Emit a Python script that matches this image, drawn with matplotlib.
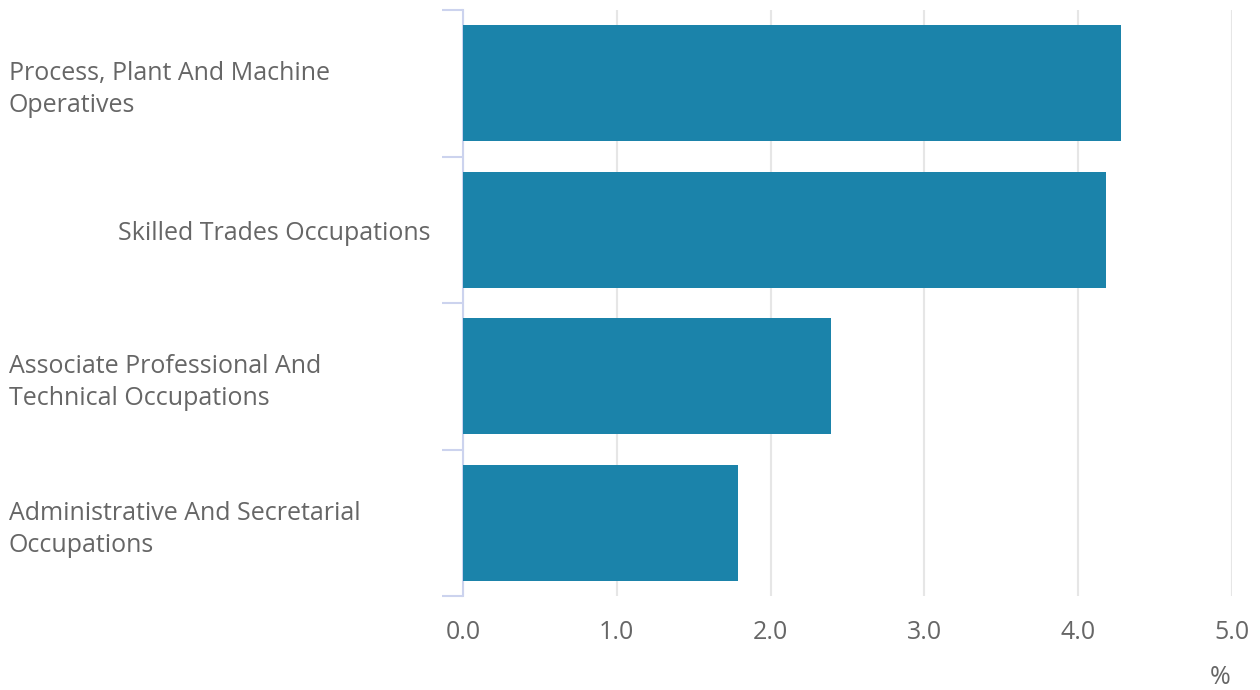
import matplotlib.pyplot as plt
from matplotlib.transforms import blended_transform_factory

# --- data ---
categories = [
    "Process, Plant And Machine\nOperatives",
    "Skilled Trades Occupations",
    "Associate Professional And\nTechnical Occupations",
    "Administrative And Secretarial\nOccupations",
]
values = [4.28, 4.18, 2.39, 1.79]
x_ticks = [0, 1, 2, 3, 4, 5]
x_labels = ["0.0", "1.0", "2.0", "3.0", "4.0", "5.0"]

bar_color = "#1b83aa"
axis_color = "#ccd3ee"
grid_color = "#e6e6e6"
text_color = "#666666"
fs = 18

plt.rcParams["font.family"] = ["Open Sans", "DejaVu Sans"]

fig = plt.figure(figsize=(12.6, 6.9), dpi=100)
ax = fig.add_axes([463 / 1260, 1 - 596 / 690, (1232 - 463) / 1260, (596 - 10) / 690])

n = len(categories)
ypos = list(range(n - 1, -1, -1))
ax.barh(ypos, values, height=0.79, color=bar_color, zorder=3)

ax.set_xlim(0, 5)
ax.set_ylim(-0.5, n - 0.5)

# x axis
ax.set_xticks(x_ticks)
ax.set_xticklabels(x_labels, fontsize=fs, color=text_color)
ax.tick_params(axis="x", length=0, pad=17)
ax.grid(axis="x", color=grid_color, linewidth=1.5, zorder=0)

# y axis: ticks at category boundaries
ax.set_yticks([i - 0.5 for i in range(n + 1)])
ax.set_yticklabels([])
ax.tick_params(axis="y", length=15, width=1.5, color=axis_color)

for side in ["top", "right", "bottom"]:
    ax.spines[side].set_visible(False)
ax.spines["left"].set_color(axis_color)
ax.spines["left"].set_linewidth(1.5)

# category labels
trans = blended_transform_factory(fig.transFigure, ax.transData)
for y, label in zip(ypos, categories):
    if "\n" in label:
        ax.text(9 / 1260, y - 0.045, label, transform=trans, ha="left", va="center",
                fontsize=fs, color=text_color, linespacing=1.37)
    else:
        ax.text(430 / 1260, y - 0.025, label, transform=trans, ha="right", va="center",
                fontsize=fs, color=text_color)

fig.text(1220 / 1260, 1 - 677 / 690, "%", ha="center", va="center",
         fontsize=fs, color=text_color)

fig.savefig("out.png", dpi=100)
